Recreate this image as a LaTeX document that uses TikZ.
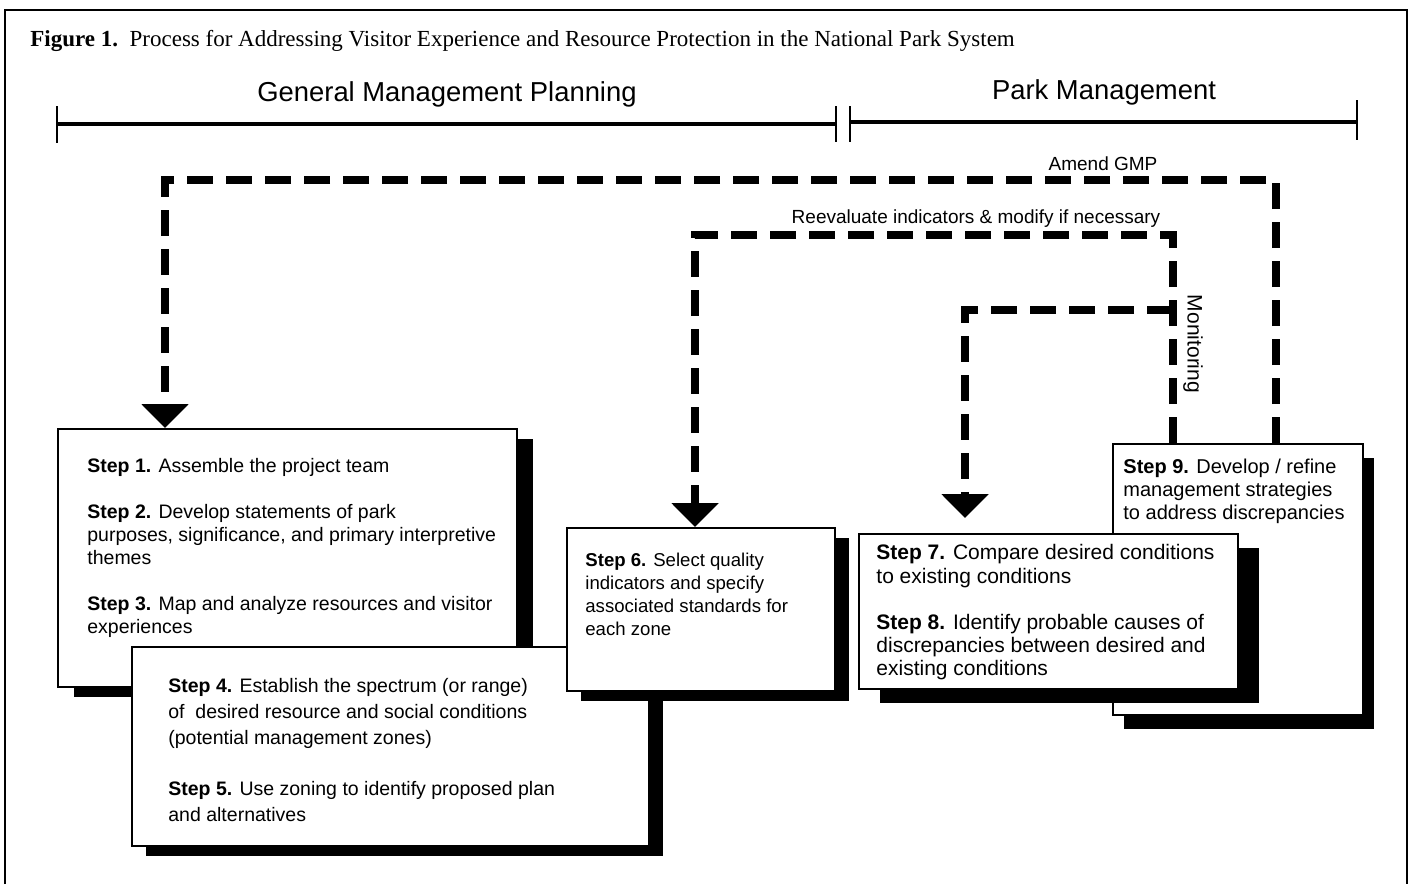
\documentclass[tikz,border=0pt]{standalone}
\usepackage{fontspec}
\setmainfont{Liberation Serif}
\setsansfont{Liberation Sans}
\usetikzlibrary{arrows.meta,shadows,calc}

\begin{document}
\begin{tikzpicture}[x=0.5pt, y=-0.5pt, >={Triangle[width=23pt,length=12pt]},
	frame/.style={line width=1pt},
	bar/.style={line width=2pt},
	tick/.style={line width=1.2pt},
	loopline/.style={line width=4pt, dash pattern=on 13pt off 6.5pt},
	looplabel/.style={font=\sffamily\fontsize{9.5}{11}\selectfont},
	phase/.style={font=\sffamily\fontsize{13.7}{16}\selectfont, anchor=base},
	stepbox/.style 2 args={draw, line width=1pt, fill=white, anchor=north west, inner sep=0pt,
		drop shadow={shadow xshift=#1, shadow yshift=#2, fill=black, opacity=1}},
	steptext/.style={anchor=north west, inner sep=0pt, align=left}]
	\useasboundingbox (0,0) rectangle (1408,884);
	
	% === 外框与标题 ===
	\draw[frame] (5,884) |- (1407,10) -- (1407,884);
	\node[anchor=base west, inner sep=0pt, font=\fontsize{11.5}{14}\selectfont] (title) at (30,46)
		{\textbf{Figure 1.}\ \ Process for Addressing Visitor Experience and Resource Protection in the National Park System};
	
	% === 时间轴 ===
	\node[phase] (gmp) at (447,101) {General Management Planning};
	\node[phase] (pm) at (1104,99) {Park Management};
	\draw[bar] (57,124) -- (836,124);
	\draw[bar] (850,122) -- (1357,122);
	\draw[tick] (57,106) -- (57,143);
	\draw[tick] (836,106) -- (836,142);
	\draw[tick] (850,106) -- (850,142);
	\draw[tick] (1357,100) -- (1357,140);
	
	% === 右侧方框 (Step 9, Step 7-8) ===
	\node[stepbox={5.5pt}{-7pt}, minimum width=125pt, minimum height=135.5pt] (s9) at (1112,443) {};
	\node[steptext, font=\sffamily\fontsize{10}{11.3}\selectfont] (t9) at (1123,459)
		{\textbf{Step 9.} Develop / refine\\ management strategies\\ to address discrepancies};
	\node[stepbox={10.5pt}{-7pt}, minimum width=189.5pt, minimum height=77.5pt] (s78) at (858,533) {};
	\node[steptext, font=\sffamily\fontsize{10.5}{11.7}\selectfont] (t78) at (876,544)
		{\textbf{Step 7.} Compare desired conditions\\ to existing conditions\\[11.3pt]
		 \textbf{Step 8.} Identify probable causes of\\ discrepancies between desired and\\ existing conditions};
	
	% === 左侧方框 (Step 1-3, Step 4-5, Step 6) ===
	\node[stepbox={8pt}{-5pt}, minimum width=229.5pt, minimum height=129pt] (s13) at (57,428) {};
	\node[steptext, font=\sffamily\fontsize{9.75}{11.5}\selectfont] (t13) at (87,458)
		{\textbf{Step 1.} Assemble the project team\\[11.5pt]
		 \textbf{Step 2.} Develop statements of park\\ purposes, significance, and primary interpretive\\ themes\\[11.5pt]
		 \textbf{Step 3.} Map and analyze resources and visitor\\ experiences};
	\node[stepbox={7pt}{-5pt}, minimum width=258.5pt, minimum height=99.5pt] (s45) at (131,646) {};
	\node[steptext, font=\sffamily\fontsize{9.75}{13}\selectfont] (t45) at (168,678)
		{\textbf{Step 4.} Establish the spectrum (or range)\\ of\ \ desired resource and social conditions\\ (potential management zones)\\[12.5pt]
		 \textbf{Step 5.} Use zoning to identify proposed plan\\ and alternatives};
	\node[stepbox={7pt}{-5pt}, minimum width=134pt, minimum height=81.5pt] (s6) at (566,527) {};
	\node[steptext, font=\sffamily\fontsize{9.3}{11.5}\selectfont] (t6) at (585,553)
		{\textbf{Step 6.} Select quality\\ indicators and specify\\ associated standards for\\ each zone};
	
	% === 反馈回路 (虚线) ===
	\coordinate (gmptop) at (165,180);
	\coordinate (reevtop) at (695,235);
	\coordinate (monjoin) at ($(s9.north west)+(61,-133)$);
	\draw[loopline, ->] ($(s9.north west)+(164,0)$) |- (gmptop) -- (s13.north -| gmptop);
	\draw[loopline, ->] ($(s9.north west)+(61,0)$) |- (reevtop) -- (s6.north -| reevtop);
	\draw[loopline, ->] (monjoin) -| ($(s78.north west)+(107,-15)$);
	
	\node[looplabel] (amendlbl) at (1103,164) {Amend GMP};
	\node[looplabel] (reevlbl) at (976,219) {Reevaluate indicators \& modify if necessary};
	\node[looplabel, font=\sffamily\fontsize{10.5}{12}\selectfont, rotate=-90] (monlbl) at (1193,344) {Monitoring};
\end{tikzpicture}
\end{document}
